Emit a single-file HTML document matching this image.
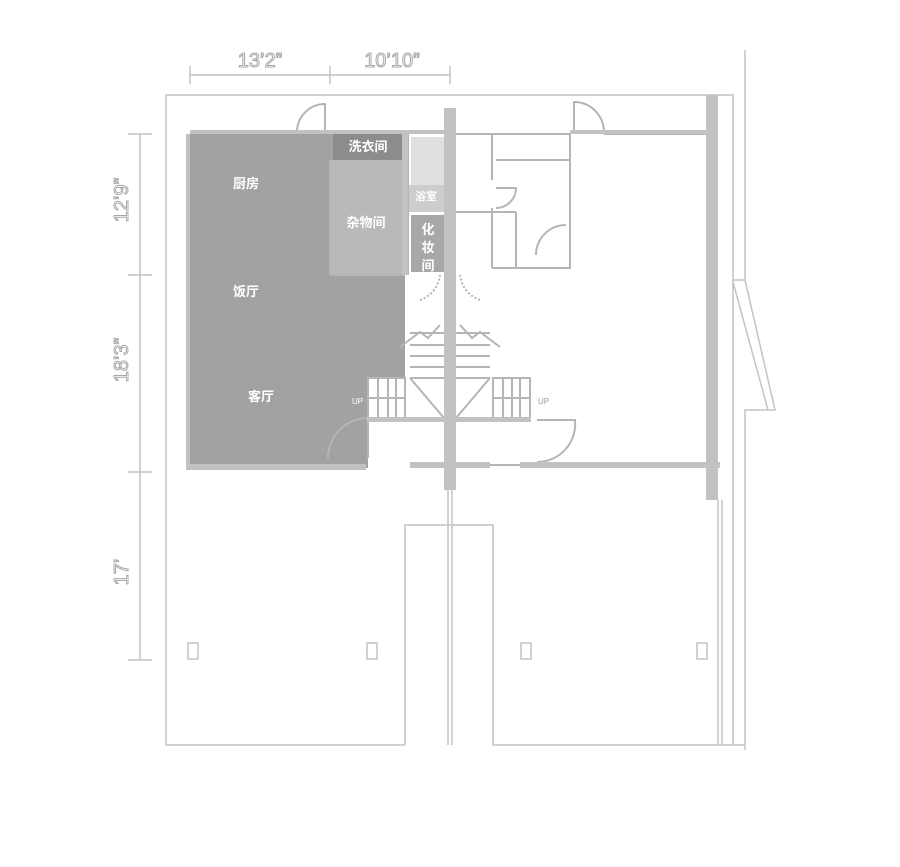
<!DOCTYPE html>
<html><head><meta charset="utf-8"><style>
html,body{margin:0;padding:0;background:#fff;}
svg{display:block;}
.t{font-family:"Liberation Sans","Noto Sans CJK SC",sans-serif;font-weight:bold;fill:#fff;}
.d{font-family:"Liberation Sans",sans-serif;font-size:20px;fill:#fff;stroke:#a8a8a8;stroke-width:1;}
</style></head><body>
<svg width="900" height="867" viewBox="0 0 900 867" xmlns="http://www.w3.org/2000/svg">
<rect width="900" height="867" fill="#fff"/>
<g fill="none" stroke="#c4c4c4" stroke-width="1.5">
<line x1="190" y1="75" x2="450" y2="75"/>
<line x1="190" y1="66" x2="190" y2="84"/><line x1="330" y1="66" x2="330" y2="84"/><line x1="450" y1="66" x2="450" y2="84"/>
<line x1="140" y1="134" x2="140" y2="660"/>
<line x1="128" y1="134" x2="152" y2="134"/><line x1="128" y1="275" x2="152" y2="275"/><line x1="128" y1="472" x2="152" y2="472"/><line x1="128" y1="660" x2="152" y2="660"/>
<polyline points="405,745 166,745 166,95 733,95 733,280 745,280"/>
<polyline points="405,745 405,525 493,525 493,745 745,745"/>
<polyline points="745,50 745,280 775,410 745,410 745,750"/>
<line x1="733" y1="280" x2="733" y2="745"/>
<line x1="733" y1="282" x2="768" y2="410"/>
<line x1="718" y1="500" x2="718" y2="745"/>
<line x1="722" y1="500" x2="722" y2="745"/>
<line x1="448" y1="490" x2="448" y2="745"/>
<line x1="452" y1="490" x2="452" y2="745"/>
<rect x="188" y="643" width="10" height="16"/><rect x="367" y="643" width="10" height="16"/>
<rect x="521" y="643" width="10" height="16"/><rect x="697" y="643" width="10" height="16"/>
</g>
<polygon points="190,134 333,134 333,275 405,275 405,378 368,378 368,468 190,468" fill="#a2a2a2"/>
<rect x="333" y="134" width="72" height="26" fill="#8c8c8c"/>
<rect x="330" y="160" width="75" height="115" fill="#b9b9b9"/>
<rect x="411" y="137" width="33" height="48" fill="#e0e0e0"/>
<rect x="408" y="185" width="36" height="27" fill="#cdcdcd"/>
<rect x="411" y="215" width="33" height="57" fill="#a8a8a8"/>
<g fill="none" stroke="#b5b5b5" stroke-width="2">
<line x1="405" y1="134" x2="405" y2="275"/>
<line x1="408" y1="134" x2="408" y2="275"/>
<line x1="330" y1="275" x2="405" y2="275"/>
<line x1="330" y1="160" x2="330" y2="275"/>
<path d="M297,132 A28,28 0 0 1 325,104 L325,132"/>
<path d="M328,458 A40,40 0 0 1 368,418 L368,458"/>
<path d="M574,102 A30,30 0 0 1 604,132 L574,132 Z"/>
<path d="M537,462 A38,38 0 0 0 575,420 L537,420"/>
<path d="M536,255 A30,30 0 0 1 566,225"/>
<path d="M496,208 A20,20 0 0 0 516,188 L496,188"/>
<polyline points="456,134 570,134"/><polyline points="604,134 706,134"/>
<polyline points="570,134 570,268 492,268"/>
<polyline points="492,134 492,180"/><polyline points="492,208 492,268"/>
<line x1="496" y1="160" x2="570" y2="160"/>
<line x1="456" y1="212" x2="516" y2="212"/><line x1="516" y1="212" x2="516" y2="268"/>
<line x1="480" y1="465" x2="706" y2="465"/>
<line x1="410" y1="465" x2="444" y2="465"/>
<rect x="368" y="378" width="37" height="42"/><rect x="493" y="378" width="37" height="42"/>
<line x1="368" y1="420" x2="530" y2="420"/>
<line x1="410" y1="333" x2="490" y2="333"/>
<line x1="410" y1="345" x2="490" y2="345"/><line x1="410" y1="356" x2="490" y2="356"/><line x1="410" y1="367" x2="490" y2="367"/><line x1="410" y1="378" x2="490" y2="378"/>
<line x1="378" y1="378" x2="378" y2="420"/><line x1="388" y1="378" x2="388" y2="420"/><line x1="396" y1="378" x2="396" y2="420"/>
<line x1="503" y1="378" x2="503" y2="420"/><line x1="512" y1="378" x2="512" y2="420"/><line x1="520" y1="378" x2="520" y2="420"/>
<line x1="368" y1="398" x2="405" y2="398"/><line x1="493" y1="398" x2="530" y2="398"/>
<line x1="410" y1="378" x2="444" y2="418"/><line x1="490" y1="378" x2="456" y2="418"/>
<polyline points="400,347 420,332 428,338 440,325"/><polyline points="500,347 480,332 472,338 460,325"/>
<path d="M420,300 A30,30 0 0 0 440,275" stroke-dasharray="2,2"/>
<path d="M480,300 A30,30 0 0 1 460,275" stroke-dasharray="2,2"/>
</g>
<g fill="#c2c2c2">
<rect x="444" y="108" width="12" height="382"/>
<rect x="706" y="95" width="12" height="405"/>
<rect x="190" y="130" width="143" height="4"/>
<rect x="333" y="130" width="111" height="4"/>
<rect x="186" y="134" width="4" height="336"/>
<rect x="186" y="464" width="180" height="6"/>
<rect x="570" y="130" width="136" height="4"/>
<rect x="410" y="462" width="34" height="6"/><rect x="456" y="462" width="34" height="6"/>
<rect x="520" y="462" width="200" height="6"/>
<rect x="367" y="417" width="164" height="5"/>
<rect x="402" y="134" width="6" height="141"/>
</g>
<g class="t" font-size="13" text-anchor="middle">
<text x="246" y="188">厨房</text>
<text x="246" y="296">饭厅</text>
<text x="261" y="401">客厅</text>
<text x="368" y="151">洗衣间</text>
<text x="366" y="227">杂物间</text>
<text x="426" y="200" font-size="11">浴室</text>
<text x="428" y="234">化</text><text x="428" y="252">妆</text><text x="428" y="270">间</text>
</g>
<text x="352" y="404" font-family="Liberation Sans,sans-serif" font-size="8" fill="#fff">UP</text>
<text x="538" y="404" font-family="Liberation Sans,sans-serif" font-size="8" fill="#999">UP</text>
<text class="d" x="260" y="67" text-anchor="middle">13’2”</text>
<text class="d" x="392" y="67" text-anchor="middle">10’10”</text>
<text class="d" transform="translate(128,200) rotate(-90)" text-anchor="middle">12’9”</text>
<text class="d" transform="translate(128,360) rotate(-90)" text-anchor="middle">18’3”</text>
<text class="d" transform="translate(128,572) rotate(-90)" text-anchor="middle">17’</text>
</svg>
</body></html>
